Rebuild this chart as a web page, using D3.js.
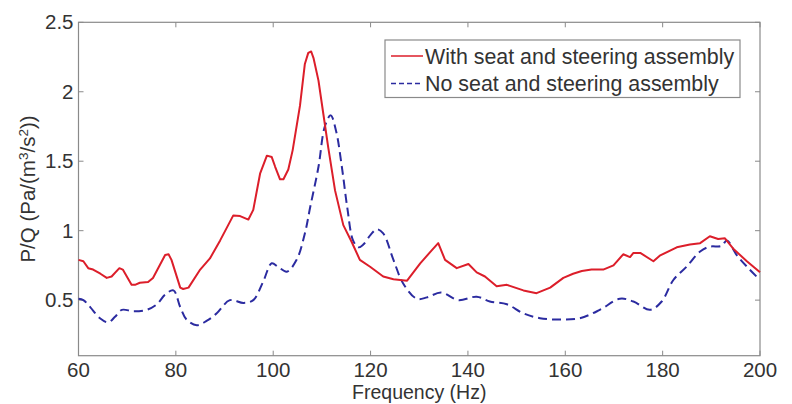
<!DOCTYPE html>
<html>
<head>
<meta charset="utf-8">
<script src="https://cdn.jsdelivr.net/npm/d3@7"></script>
<style>
  body { margin: 0; background: #fff; }
  text { font-family: Arial, "Liberation Sans", sans-serif; fill: #333; }
</style>
</head>
<body>
<div id="chart"></div>
<script>
var withFreq = [60,61,62,63,64.5,65.8,66.8,68.4,69.1,70.9,71.6,72.6,74.3,75.3,77.8,78.5,79.1,80.9,81.5,82.6,85,87,89.1,91.8,93.2,94.9,95.9,97.3,98.7,99.7,100.4,101.4,102.1,103.1,104,105.5,106.5,107.2,107.8,108.3,109.3,110.3,111.3,112.7,114.4,116.1,117.8,119.9,122.6,124.7,127.5,130.2,132.6,133.9,135.3,137.7,140.1,141.8,143.5,145.9,148,151.4,154.1,156.9,159.6,161.6,163.4,165.4,167.8,169.9,171.9,173.3,174,175.4,178.1,179.4,182.9,185.6,187.7,189.7,191.4,192.8,194.5,197.3,200];
var withVal  = [0.79,0.78,0.73,0.72,0.69,0.66,0.67,0.73,0.72,0.61,0.61,0.625,0.63,0.66,0.825,0.83,0.79,0.59,0.58,0.59,0.72,0.80,0.93,1.11,1.105,1.08,1.15,1.41,1.54,1.53,1.46,1.37,1.37,1.44,1.58,1.9,2.2,2.28,2.29,2.24,2.08,1.84,1.60,1.29,1.04,0.92,0.79,0.74,0.67,0.65,0.64,0.765,0.86,0.91,0.79,0.73,0.76,0.70,0.67,0.60,0.61,0.57,0.55,0.59,0.66,0.69,0.71,0.72,0.72,0.75,0.83,0.81,0.84,0.84,0.78,0.82,0.88,0.90,0.91,0.96,0.94,0.945,0.87,0.78,0.70];

var noFreq = [60,61,62.4,64.4,66.1,67.5,68.9,71.3,74,76.1,77.8,79.5,80.9,82.2,84.3,86.3,88.4,91.1,93.9,95.9,97.9,99.7,101,102.8,104.8,106.5,107.6,109.3,110.6,111.8,112.9,114.1,115.2,116.4,117.5,118.5,120,121.3,122.6,124.7,126.7,129.5,131.6,134.5,138,141.8,144.5,148,151.4,154.8,158.9,163,167.1,171.2,174,177.4,179.8,182.2,184.9,187.7,189.7,192.1,193.2,195.2,197.6,200];
var noVal  = [0.51,0.50,0.45,0.37,0.34,0.38,0.43,0.42,0.43,0.47,0.54,0.57,0.45,0.36,0.32,0.35,0.405,0.50,0.48,0.50,0.63,0.765,0.74,0.705,0.79,0.98,1.17,1.46,1.75,1.83,1.72,1.46,1.17,0.93,0.88,0.90,0.97,1.01,0.98,0.79,0.62,0.51,0.52,0.555,0.50,0.525,0.49,0.47,0.405,0.37,0.36,0.37,0.43,0.51,0.49,0.43,0.49,0.645,0.74,0.85,0.885,0.89,0.93,0.825,0.73,0.645];

var xTicks = [60,80,100,120,140,160,180,200];
var yTicks = [0.5,1,1.5,2,2.5];
var seriesNames = ["With seat and steering assembly","No seat and steering assembly"];

var width = 792, height = 404;
var margin = {left: 78.5, right: 32, top: 22.3, bottom: 48.3};

var svg = d3.select("#chart").append("svg")
  .attr("width", width)
  .attr("height", height);

var x = d3.scaleLinear().domain([60,200]).range([margin.left, width - margin.right]);
var y = d3.scaleLinear().domain([0.1,2.5]).range([height - margin.bottom, margin.top]);

var axisCol = "#8a8a8a";

//frame with inward ticks on all sides
svg.append("rect")
  .attr("x", x(60)).attr("y", y(2.5))
  .attr("width", x(200) - x(60)).attr("height", y(0.1) - y(2.5))
  .attr("fill", "none").attr("stroke", axisCol).attr("stroke-width", 1.2);

var tl = 5;
xTicks.forEach(function(t) {
  svg.append("line").attr("x1", x(t)).attr("x2", x(t)).attr("y1", y(0.1)).attr("y2", y(0.1) - tl)
    .attr("stroke", axisCol);
  svg.append("line").attr("x1", x(t)).attr("x2", x(t)).attr("y1", y(2.5)).attr("y2", y(2.5) + tl)
    .attr("stroke", axisCol);
  svg.append("text").attr("x", x(t)).attr("y", y(0.1) + 21.5)
    .attr("text-anchor", "middle").attr("font-size", 20.5).text(t);
});
yTicks.forEach(function(t) {
  svg.append("line").attr("x1", x(60)).attr("x2", x(60) + tl).attr("y1", y(t)).attr("y2", y(t))
    .attr("stroke", axisCol);
  svg.append("line").attr("x1", x(200)).attr("x2", x(200) - tl).attr("y1", y(t)).attr("y2", y(t))
    .attr("stroke", axisCol);
  svg.append("text").attr("x", x(60) - 5).attr("y", y(t) + 7)
    .attr("text-anchor", "end").attr("font-size", 20.5).text(t);
});

svg.append("text")
  .attr("x", (x(60) + x(200)) / 2).attr("y", 399)
  .attr("text-anchor", "middle").attr("font-size", 19.5)
  .text("Frequency (Hz)");

var yl = svg.append("text")
  .attr("transform", "translate(35," + ((y(0.1) + y(2.5)) / 2) + ") rotate(-90)")
  .attr("text-anchor", "middle").attr("font-size", 20.5);
yl.append("tspan").text("P/Q (Pa/(m");
yl.append("tspan").attr("baseline-shift", "super").attr("font-size", 13.5).text("3");
yl.append("tspan").text("/s");
yl.append("tspan").attr("baseline-shift", "super").attr("font-size", 13.5).text("2");
yl.append("tspan").text("))");

// curves
var lineA = d3.line()
  .x(function(d) { return x(d[0]); })
  .y(function(d) { return y(d[1]); });
var lineB = d3.line()
  .x(function(d) { return x(d[0]); })
  .y(function(d) { return y(d[1]); })
  .curve(d3.curveCatmullRom);

svg.append("path")
  .datum(d3.zip(noFreq, noVal))
  .attr("d", lineB)
  .attr("fill", "none").attr("stroke", "#2b2ba0").attr("stroke-width", 2)
  .attr("stroke-dasharray", "9,5");

svg.append("path")
  .datum(d3.zip(withFreq, withVal))
  .attr("d", lineA)
  .attr("fill", "none").attr("stroke", "#dc1e2a").attr("stroke-width", 2)
  .attr("stroke-linejoin", "round");

// legend
var lg = svg.append("g").attr("transform", "translate(385,40)");
lg.append("rect").attr("width", 355).attr("height", 57.5)
  .attr("fill", "#fff").attr("stroke", axisCol).attr("stroke-width", 1.2);
var legCol = ["#dc1e2a", "#2b2ba0"];
var legDash = [null, "5,3"];
seriesNames.forEach(function(n, i) {
  var ry = 16 + i * 27.5;
  lg.append("line").attr("x1", 6).attr("x2", 38).attr("y1", ry).attr("y2", ry)
    .attr("stroke", legCol[i]).attr("stroke-width", 1.5)
    .attr("stroke-dasharray", legDash[i]);
  lg.append("text").attr("x", 40).attr("y", ry + 7.5)
    .attr("font-size", 21.4).text(n);
});
</script>
</body>
</html>
